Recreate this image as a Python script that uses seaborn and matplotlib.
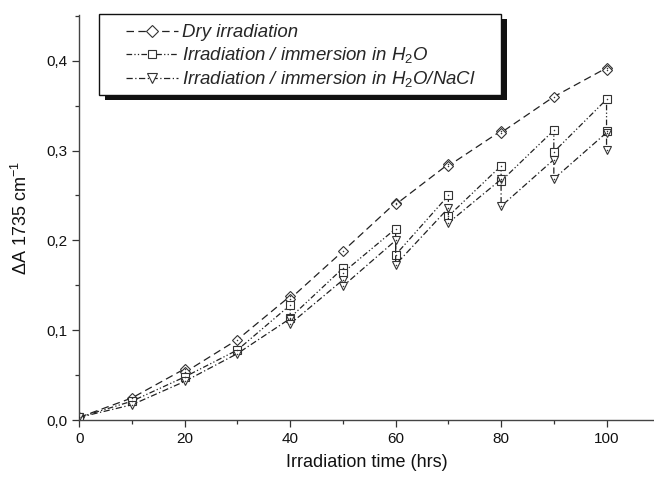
import numpy as np
import pandas as pd
import seaborn as sns
import matplotlib
matplotlib.use("Agg")
import matplotlib.pyplot as plt
from matplotlib.patches import Rectangle
from matplotlib.ticker import FixedLocator

# ---------------- data ----------------
dry_x = [0, 10, 20, 20, 30, 40, 40, 50, 60, 60, 70, 70, 80, 80, 90, 100, 100]
dry_y = [0.003, 0.0246, 0.057, 0.053, 0.0895, 0.138, 0.135, 0.188, 0.242, 0.240,
         0.285, 0.283, 0.322, 0.320, 0.360, 0.392, 0.390]

h2o_x = [0, 10, 20, 30, 40, 40, 50, 50, 60, 60, 70, 70, 80, 80, 90, 90, 100, 100]
h2o_y = [0.003, 0.021, 0.048, 0.078, 0.128, 0.114, 0.169, 0.164, 0.213, 0.184,
         0.250, 0.227, 0.283, 0.266, 0.3226, 0.2985, 0.357, 0.322]

nacl_x = [0, 10, 20, 30, 40, 40, 50, 50, 60, 60, 70, 70, 80, 80, 90, 90, 100, 100]
nacl_y = [0.003, 0.017, 0.043, 0.074, 0.113, 0.107, 0.156, 0.149, 0.200, 0.173,
          0.236, 0.2195, 0.268, 0.238, 0.290, 0.2685, 0.320, 0.301]

series_labels = ["Dry irradiation",
                 "Irradiation / immersion in H$_2$O",
                 "Irradiation / immersion in H$_2$O/NaCl"]

x_ticks = [0, 20, 40, 60, 80, 100]
x_tick_labels = ["0", "20", "40", "60", "80", "100"]
y_ticks = [0.0, 0.1, 0.2, 0.3, 0.4]
y_tick_labels = ["0,0", "0,1", "0,2", "0,3", "0,4"]

x_label = "Irradiation time (hrs)"
y_label = "\u0394A 1735 cm$^{-1}$"

# ---------------- style ----------------
sns.set_style("ticks")
plt.rcParams["font.family"] = ["Liberation Sans", "DejaVu Sans"]
plt.rcParams["mathtext.fontset"] = "custom"
plt.rcParams["mathtext.rm"] = "Liberation Sans"
plt.rcParams["mathtext.it"] = "Liberation Sans:italic"

fig = plt.figure(figsize=(6.54, 4.78), dpi=100)
W, H = 654, 478
ax = fig.add_axes([79.3 / W, (H - 420) / H, (W - 79.3) / W, (420 - 15) / H])

line_col = "#222222"
edge_col = "#333333"

specs = [
    (dry_x, dry_y, "D", 5.4, (0, (6.0, 3.5))),
    (h2o_x, h2o_y, "s", 5.2, (0, (4.5, 1.8, 1.0, 1.8, 1.0, 1.8))),
    (nacl_x, nacl_y, "v", 6.2, (0, (5.0, 2.0, 1.0, 2.0))),
]

handles = []
for (xs, ys, mk, ms, ls), lab in zip(specs, series_labels):
    df = pd.DataFrame({"x": xs, "y": ys})
    n_before = len(ax.lines)
    sns.lineplot(data=df, x="x", y="y", sort=False, estimator=None, ax=ax,
                 color=line_col, linewidth=0.9, linestyle=ls,
                 marker=mk, markersize=ms, markerfacecolor="white",
                 markeredgecolor=edge_col, markeredgewidth=0.8, label=lab,
                 legend=False)
    handles.append(ax.lines[n_before])
    sns.scatterplot(data=df, x="x", y="y", marker="o", s=1.2, color=edge_col,
                    linewidth=0, ax=ax, legend=False, zorder=5)

ax.set_xlim(0, 109)
ax.set_ylim(0, 0.451)

ax.set_xticks(x_ticks)
ax.set_xticklabels(x_tick_labels)
ax.set_yticks(y_ticks)
ax.set_yticklabels(y_tick_labels)
ax.xaxis.set_minor_locator(FixedLocator([10, 30, 50, 70, 90]))
ax.yaxis.set_minor_locator(FixedLocator([0.05, 0.15, 0.25, 0.35, 0.45]))

ax.tick_params(which="major", direction="out", length=5.2, width=0.9,
               color="#333333", labelsize=11, pad=3.5, labelcolor="#111111")
ax.tick_params(which="minor", direction="out", length=3, width=0.9, color="#333333")
for side in ["top", "right"]:
    ax.spines[side].set_visible(False)
for side in ["left", "bottom"]:
    ax.spines[side].set_linewidth(1.0)
    ax.spines[side].set_color("#444444")

ax.set_xlabel(x_label, fontsize=13, labelpad=6, color="#111111")
ax.set_ylabel(y_label, fontsize=13, labelpad=11, color="#111111")

# legend: frame and shadow drawn as patches
shadow = Rectangle((105 / W, 1 - 100 / H), (507 - 105) / W, (100 - 19) / H,
                   transform=fig.transFigure, facecolor="#111111",
                   edgecolor="none", zorder=8)
frame = Rectangle((99 / W, 1 - 95 / H), (501 - 99) / W, (95 - 14) / H,
                  transform=fig.transFigure, facecolor="white",
                  edgecolor="#111111", linewidth=1.0, zorder=9)
fig.add_artist(shadow)
fig.add_artist(frame)

leg = fig.legend(handles, series_labels, loc="upper left",
                 bbox_to_anchor=(126 / W, 1 - 24 / H),
                 bbox_transform=fig.transFigure, frameon=False,
                 prop={"style": "italic", "size": 13.4},
                 handlelength=2.8, handletextpad=0.2, labelspacing=0.22,
                 borderpad=0, borderaxespad=0, markerscale=1.2)
leg.set_zorder(10)

fig.savefig("out.png", dpi=100)
